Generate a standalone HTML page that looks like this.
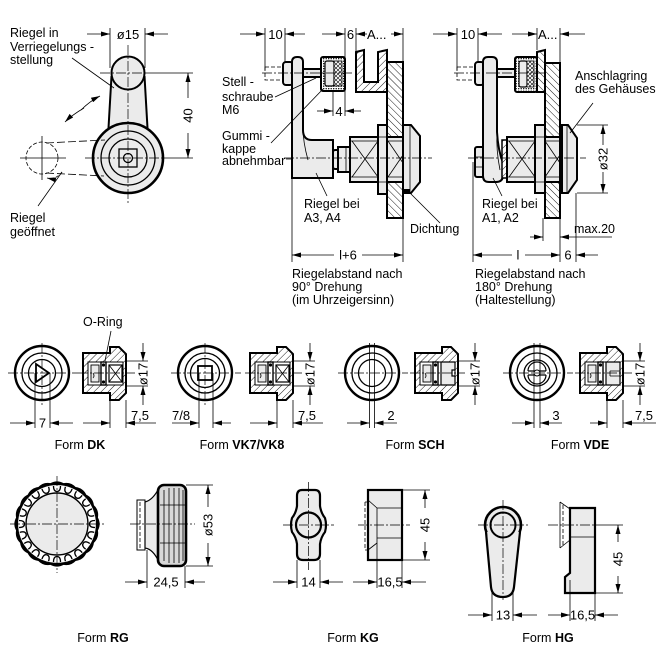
<!DOCTYPE html>
<html><head><meta charset="utf-8"><style>
html,body{margin:0;padding:0;background:#fff}
svg{display:block}
text{font-family:"Liberation Sans",Arial,sans-serif;font-size:12.5px;fill:#000}
.n{font-size:13px}
.t{stroke:#000;stroke-width:.8;fill:none}
.m{stroke:#000;stroke-width:1.3;fill:none}
.k{stroke:#000;stroke-width:2}
.c{stroke:#000;stroke-width:.7;fill:none;stroke-dasharray:10,2,2,2}
.d{stroke:#000;stroke-width:.8;fill:none;stroke-dasharray:4,2}
.g{fill:#ebebeb}
.w{fill:#fff}
.f{fill:none}
</style></head><body>
<svg width="668" height="668" viewBox="0 0 668 668" xmlns="http://www.w3.org/2000/svg" xmlns:xlink="http://www.w3.org/1999/xlink">
<defs>
<marker id="a" markerUnits="userSpaceOnUse" markerWidth="9" markerHeight="5" refX="9" refY="2.5" orient="auto"><path d="M0,0 L9,2.5 L0,5 Z" fill="#000"/></marker>
<pattern id="h1" width="5" height="5" patternUnits="userSpaceOnUse" patternTransform="rotate(45)"><rect width="5" height="5" fill="#fff"/><line x1="0" y1="0" x2="0" y2="5" stroke="#000" stroke-width="0.9"/></pattern>
<pattern id="h2" width="5" height="5" patternUnits="userSpaceOnUse" patternTransform="rotate(-45)"><rect width="5" height="5" fill="#fff"/><line x1="0" y1="0" x2="0" y2="5" stroke="#000" stroke-width="0.9"/></pattern>
<pattern id="xh" width="4" height="4" patternUnits="userSpaceOnUse"><rect width="4" height="4" fill="#fff"/><path d="M0,0 L4,4 M4,0 L0,4" stroke="#000" stroke-width="0.6"/></pattern>
<pattern id="st" width="2.5" height="2.5" patternUnits="userSpaceOnUse"><rect width="2.5" height="2.5" fill="#fff"/><circle cx="1.2" cy="1.2" r="0.7" fill="#000"/></pattern>
<g id="shell">
<path d="M0,0 H27 V-6 H36 L43,1 V40 L36,47 H27 V40 H0 Z" fill="url(#h1)" stroke="#000" stroke-width="2"/>
<rect x="5" y="9" width="35" height="23" fill="#fff" stroke="#000" stroke-width="1"/>
<rect x="8" y="12" width="8" height="17" class="g" stroke="#000" stroke-width="0.9"/>
<path d="M10,20 q2,3 0,5" class="t"/>
<rect x="18" y="9" width="5" height="23" fill="#fff" stroke="#000" stroke-width="1.4"/>
<circle cx="20.5" cy="12" r="1.6" fill="#000"/><circle cx="20.5" cy="29" r="1.6" fill="#000"/>
</g>
<g id="xbox">
<rect x="26" y="12" width="13" height="17" fill="#fff" stroke="#000" stroke-width="1.2"/>
<path d="M26,12 L39,29 M39,12 L26,29" class="t"/>
</g>
<g id="tooth">
<path d="M-3.5,-38 Q-3.5,-32.5 0,-32.5 Q3.5,-32.5 3.5,-38" stroke="#000" stroke-width="1.3" fill="none"/>
<path d="M-6.4,-39.8 Q0,-43.5 6.4,-39.8" stroke="#000" stroke-width="2" fill="none"/>
</g>
</defs>

<!-- ============ TOP LEFT VIEW ============ -->
<path class="g" d="M111.5,76 L108.5,132 L147.5,132 L144.5,76 Z"/>
<path class="k f" d="M111.5,76 L108.5,128 M144.5,76 L147.5,128"/>
<circle class="k g" cx="128" cy="73" r="16.5"/>
<circle class="g" stroke="#000" stroke-width="2.6" cx="128" cy="158" r="35"/>
<circle class="m" cx="128" cy="158" r="27"/>
<circle class="m" cx="128" cy="158" r="19"/>
<rect class="m" x="119" y="149" width="18" height="18" stroke-width="1.6"/>
<circle class="m" cx="128" cy="158" r="4.5"/>
<line class="c" x1="128" y1="45" x2="128" y2="205"/>
<line class="c" x1="85" y1="158" x2="165" y2="158"/>
<line class="c" x1="100" y1="73" x2="146" y2="73"/>
<path class="t" d="M110,28 V68 M145,28 V68"/>
<path class="t" d="M87,34 H110" marker-end="url(#a)"/>
<path class="t" d="M168,34 H145" marker-end="url(#a)"/>
<text class="n" x="128" y="39" text-anchor="middle">ø15</text>
<path class="t" d="M146,73 H193 M164,158 H193"/>
<path class="t" d="M188,98 V73" marker-end="url(#a)"/>
<path class="t" d="M188,133 V158" marker-end="url(#a)"/>
<text class="n" transform="translate(192.5,115.5) rotate(-90)" text-anchor="middle">40</text>
<circle class="d" cx="42" cy="158" r="16" stroke-width="1" stroke-dasharray="5,2"/>
<path class="t" d="M20,158 H66 M42,136 V180"/>
<path class="t" d="M46,143 L105,140 M46,173 L104,176" stroke-dasharray="8,3" stroke-width="1"/>
<path class="t" d="M81,110 Q90,101 100,96" marker-end="url(#a)" stroke-width="1"/>
<path class="t" d="M84,108 Q72,115 65,122" marker-end="url(#a)" stroke-width="1"/>
<path class="t" d="M62,172 Q56,180 47,178" stroke-dasharray="3,2" marker-end="url(#a)"/>
<path class="t" d="M72,58 L114,88 M38,206 L62,172"/>
<text x="10" y="37">Riegel in</text>
<text x="10" y="51">Verriegelungs -</text>
<text x="10" y="64">stellung</text>
<text x="10" y="222">Riegel</text>
<text x="10" y="236">geöffnet</text>

<!-- ============ MIDDLE VIEW ============ -->
<path class="t" d="M265,28 V70 M285,28 V62 M345,28 V116 M356,28 V52 M403,28 V262 M333,90 V116"/>
<path class="t" d="M240,34 H265" marker-end="url(#a)"/>
<path class="t" d="M305,34 H285" marker-end="url(#a)"/>
<text class="n" x="275.5" y="39" text-anchor="middle">10</text>
<path class="t" d="M322,34 H345" marker-end="url(#a)"/>
<path class="t" d="M367,34 H356" marker-end="url(#a)"/>
<text class="n" x="350.5" y="39" text-anchor="middle">6</text>
<text class="n" x="367" y="39">A...</text>
<path class="t" d="M391,34 H403" marker-end="url(#a)"/>
<path d="M356,52 L364,50 L364,82 L378,82 L378,52 L387,50 L387,92 L356,92 Z" fill="url(#h1)" stroke="#000" stroke-width="2"/>
<rect x="387" y="62" width="16" height="156" fill="url(#h2)" stroke="#000" stroke-width="2"/>
<rect class="d" x="265" y="67" width="19" height="13"/>
<rect class="k g" x="303" y="69" width="19" height="8" stroke-width="1.5"/>
<rect class="k g" x="283" y="62" width="10" height="23" rx="3"/>
<path class="k g" d="M292,178 L292,62 Q292,57 297,57 L298,57 Q303,57 303,62 L303,130 Q303,140 312,140 L333,140 L333,178 Z"/>
<path class="t" d="M303,128 Q303,142 308,160"/>
<rect x="321" y="57" width="24" height="34" rx="2" fill="url(#st)" stroke="#000" stroke-width="2"/>
<rect x="325" y="61" width="9" height="25" rx="2" class="g" stroke="#000" stroke-width="1.2"/>
<rect x="334" y="61" width="8" height="25" fill="url(#xh)" stroke="#000" stroke-width="0.8"/>
<line class="c" x1="262" y1="73" x2="352" y2="73"/>
<rect class="k g" x="333" y="150" width="7" height="19" rx="2" stroke-width="1.5"/>
<rect class="k g" x="338" y="147" width="12" height="25" stroke-width="1.5"/>
<line class="t" x1="346" y1="147" x2="346" y2="172"/>
<rect class="k g" x="350" y="137" width="53" height="45"/>
<path class="t" d="M350,141 H403 M350,177 H403 M352,141 L378,177 M352,177 L378,141 M388,141 L403,163 M388,177 L403,155"/>
<rect class="k g" x="378" y="125" width="9" height="69"/>
<path class="t" d="M378,137 H387 M378,182 H387"/>
<path class="k g" d="M403,125 L411,125 L420,136 L420,182 L411,193 L403,193 Z"/>
<line class="t" x1="410" y1="125" x2="410" y2="193"/>
<rect x="403" y="189" width="7" height="5" fill="#000"/>
<line class="c" x1="284" y1="158" x2="432" y2="158"/>
<path class="t" d="M317,111 H333" marker-end="url(#a)"/>
<path class="t" d="M361,111 H345" marker-end="url(#a)"/>
<text class="n" x="339" y="116" text-anchor="middle">4</text>
<path class="t" d="M292,178 V262"/>
<path class="t" d="M334,255 H292" marker-end="url(#a)"/>
<path class="t" d="M362,255 H403" marker-end="url(#a)"/>
<text class="n" x="348" y="259.5" text-anchor="middle">l+6</text>
<path class="t" d="M275,97 L316,78 M271,143 L323,89 M286,159 H292 M327,196 L316,173 M440,223 L410,193"/>
<text x="222" y="86">Stell -</text>
<text x="222" y="101">schraube</text>
<text x="222" y="114">M6</text>
<text x="222" y="140">Gummi -</text>
<text x="222" y="153">kappe</text>
<text x="222" y="165">abnehmbar</text>
<text x="304" y="208">Riegel bei</text>
<text x="304" y="222">A3, A4</text>
<text x="410" y="233">Dichtung</text>
<text x="292" y="278">Riegelabstand nach</text>
<text x="292" y="291">90° Drehung</text>
<text x="292" y="304">(im Uhrzeigersinn)</text>

<!-- ============ RIGHT VIEW ============ -->
<path class="t" d="M457,28 V70 M478,28 V62 M537,28 V50 M560,28 V262"/>
<path class="t" d="M433,34 H457" marker-end="url(#a)"/>
<path class="t" d="M502,34 H478" marker-end="url(#a)"/>
<text class="n" x="468" y="39" text-anchor="middle">10</text>
<path class="t" d="M512,34 H537" marker-end="url(#a)"/>
<path class="t" d="M585,34 H560" marker-end="url(#a)"/>
<text class="n" x="538" y="39">A...</text>
<path d="M537,52 L545,50 L545,92 L537,92 Z" fill="url(#h2)" stroke="#000" stroke-width="2"/>
<rect x="545" y="63" width="15" height="155" fill="url(#h2)" stroke="#000" stroke-width="2"/>
<rect class="d" x="457" y="67" width="19" height="13"/>
<rect class="k g" x="497" y="69" width="19" height="8" stroke-width="1.5"/>
<rect class="k g" x="475" y="62" width="9" height="23" rx="3"/>
<rect class="k g" x="475" y="147" width="9" height="30" rx="2" stroke-width="1.6"/>
<path class="t" d="M475,157 H484 M475,167 H484"/>
<path class="k g" d="M483,62 Q483,57 488,57 L492,57 Q497,57 497,62 L497,132 Q498,150 503,163 L503,175 Q503,182 496,182 L489,182 Q483,182 483,176 Z"/>
<path class="t" d="M497,132 Q496,150 500,170"/>
<rect x="515" y="57" width="22" height="35" rx="2" fill="url(#st)" stroke="#000" stroke-width="2"/>
<rect x="519" y="61" width="8" height="26" rx="2" class="g" stroke="#000" stroke-width="1.2"/>
<rect x="527" y="61" width="7" height="26" fill="url(#xh)" stroke="#000" stroke-width="0.8"/>
<line class="c" x1="454" y1="73" x2="545" y2="73"/>
<rect x="502" y="140" width="6" height="38" fill="url(#h1)" stroke="#000" stroke-width="1.5"/>
<rect class="k g" x="507" y="137" width="53" height="45"/>
<path class="t" d="M507,141 H560 M507,177 H560 M509,141 L535,177 M509,177 L535,141 M545,141 L560,163 M545,177 L560,155"/>
<rect class="k g" x="535" y="125" width="10" height="68"/>
<path class="t" d="M535,137 H545 M535,182 H545"/>
<path class="k g" d="M562,125 L568,125 L577,138 L577,180 L568,193 L562,193 Z"/>
<line class="t" x1="567" y1="125" x2="567" y2="193"/>
<line class="c" x1="468" y1="158" x2="586" y2="158"/>
<path class="t" d="M577,125 H608 M577,193 H608"/>
<path class="t" d="M603,145 V125" marker-end="url(#a)"/>
<path class="t" d="M603,172 V193" marker-end="url(#a)"/>
<text class="n" transform="translate(607.5,159) rotate(-90)" text-anchor="middle">ø32</text>
<path class="t" d="M543,218 V241 M576,193 V262"/>
<path class="t" d="M530,237 H543" marker-end="url(#a)"/>
<path class="t" d="M612,237 H560" marker-end="url(#a)"/>
<text x="574" y="233">max.20</text>
<path class="t" d="M473,162 V262"/>
<path class="t" d="M512,255 H473" marker-end="url(#a)"/>
<path class="t" d="M525,255 H560" marker-end="url(#a)"/>
<text class="n" x="518" y="259.5" text-anchor="middle">l</text>
<path class="t" d="M598,255 H576" marker-end="url(#a)"/>
<text class="n" x="568" y="259.5" text-anchor="middle">6</text>
<path class="t" d="M593,103 L570,133 M502,196 L493,178"/>
<text x="575" y="80">Anschlagring</text>
<text x="575" y="93">des Gehäuses</text>
<text x="482" y="208">Riegel bei</text>
<text x="482" y="222">A1, A2</text>
<text x="475" y="278">Riegelabstand nach</text>
<text x="475" y="291">180° Drehung</text>
<text x="475" y="304">(Haltestellung)</text>

<!-- ============ ROW 2 ============ -->
<circle cx="42" cy="373" r="27" fill="#fff" stroke="#000" stroke-width="2.4"/>
<circle class="m" cx="42" cy="373" r="20" stroke-width="1.8"/>
<circle class="m" cx="42" cy="373" r="13.5" stroke-width="1.8"/>
<path d="M36,364 L49,373 L36,382 Z" fill="none" stroke="#000" stroke-width="1.8"/>
<path class="c" d="M8,373 H78 M42,343 V405"/>
<path class="t" d="M35,373 V428 M50,373 V428"/>
<path class="t" d="M10,423 H35" marker-end="url(#a)"/>
<path class="t" d="M73,423 H50" marker-end="url(#a)"/>
<text class="n" x="42.5" y="427.5" text-anchor="middle">7</text>
<use xlink:href="#shell" href="#shell" transform="translate(83,353)"/>
<use xlink:href="#xbox" href="#xbox" transform="translate(83,353)"/>
<line class="c" x1="78" y1="373" x2="135" y2="373"/>
<path class="t" d="M126,361 H148 M126,386 H148 M110,400 V428 M126,400 V428"/>
<path class="t" d="M143,343 V361" marker-end="url(#a)"/>
<path class="t" d="M143,405 V386" marker-end="url(#a)"/>
<text class="n" transform="translate(147.5,374) rotate(-90)" text-anchor="middle">ø17</text>
<path class="t" d="M83,423 H110" marker-end="url(#a)"/>
<path class="t" d="M156,423 H126" marker-end="url(#a)"/>
<text class="n" x="140" y="420" text-anchor="middle">7,5</text>
<text x="83" y="326">O-Ring</text>
<path class="t" d="M111,331 L105,361"/>
<text x="80" y="449" text-anchor="middle">Form <tspan font-weight="bold">DK</tspan></text>

<circle cx="205" cy="373" r="27" fill="#fff" stroke="#000" stroke-width="2.4"/>
<circle class="m" cx="205" cy="373" r="20" stroke-width="1.8"/>
<circle class="m" cx="205" cy="373" r="14.5" stroke-width="1.8"/>
<rect x="198" y="366" width="14" height="14" fill="none" stroke="#000" stroke-width="1.8"/>
<path class="c" d="M171,373 H241 M205,343 V405"/>
<path class="t" d="M199,373 V428 M213,373 V428"/>
<path class="t" d="M172,423 H199" marker-end="url(#a)"/>
<path class="t" d="M231,423 H213" marker-end="url(#a)"/>
<text class="n" x="172" y="420">7/8</text>
<use xlink:href="#shell" href="#shell" transform="translate(250,353)"/>
<use xlink:href="#xbox" href="#xbox" transform="translate(250,353)"/>
<line class="c" x1="245" y1="373" x2="302" y2="373"/>
<path class="t" d="M293,361 H315 M293,386 H315 M277,400 V428 M293,400 V428"/>
<path class="t" d="M310,343 V361" marker-end="url(#a)"/>
<path class="t" d="M310,405 V386" marker-end="url(#a)"/>
<text class="n" transform="translate(314.5,374) rotate(-90)" text-anchor="middle">ø17</text>
<path class="t" d="M250,423 H277" marker-end="url(#a)"/>
<path class="t" d="M323,423 H293" marker-end="url(#a)"/>
<text class="n" x="307" y="420" text-anchor="middle">7,5</text>
<text x="242" y="449" text-anchor="middle">Form <tspan font-weight="bold">VK7/VK8</tspan></text>

<circle cx="372" cy="373" r="27" fill="#fff" stroke="#000" stroke-width="2.4"/>
<circle class="m" cx="372" cy="373" r="20" stroke-width="1.8"/>
<circle class="m" cx="372" cy="373" r="13.5" stroke-width="1.8"/>
<path class="c" d="M338,373 H408"/>
<path class="t" d="M369.5,343 V428 M374.5,343 V428"/>
<path class="t" d="M347,423 H369.5" marker-end="url(#a)"/>
<path class="t" d="M397,423 H374.5" marker-end="url(#a)"/>
<text class="n" x="391" y="420" text-anchor="middle">2</text>
<use xlink:href="#shell" href="#shell" transform="translate(415,353)"/>
<path d="M441,362 H455 V370 H452 V376 H455 V385 H441 Z" class="g" stroke="#000" stroke-width="1.2"/>
<line class="c" x1="410" y1="373" x2="465" y2="373"/>
<path class="t" d="M458,361 H480 M458,386 H480"/>
<path class="t" d="M475,343 V361" marker-end="url(#a)"/>
<path class="t" d="M475,405 V386" marker-end="url(#a)"/>
<text class="n" transform="translate(479.5,374) rotate(-90)" text-anchor="middle">ø17</text>
<text x="415" y="449" text-anchor="middle">Form <tspan font-weight="bold">SCH</tspan></text>

<circle cx="537" cy="373" r="27" fill="#fff" stroke="#000" stroke-width="2.4"/>
<circle class="m" cx="537" cy="373" r="20" stroke-width="1.8"/>
<circle class="m" cx="537" cy="373" r="13" stroke-width="1.6"/>
<path d="M528,371 A9,9 0 0 1 546,371 M528,375 A9,9 0 0 0 546,375 M528,371 H546 M528,375 H546" fill="none" stroke="#000" stroke-width="1.2"/>
<circle cx="537" cy="373" r="3" fill="#fff" stroke="#000" stroke-width="1"/>
<path class="c" d="M503,373 H573"/>
<path class="t" d="M534,343 V428 M540,343 V428"/>
<path class="t" d="M512,423 H534" marker-end="url(#a)"/>
<path class="t" d="M562,423 H540" marker-end="url(#a)"/>
<text class="n" x="556" y="420" text-anchor="middle">3</text>
<use xlink:href="#shell" href="#shell" transform="translate(580,353)"/>
<path d="M606,362 H620 V385 H606 Z" class="g" stroke="#000" stroke-width="1.2"/>
<path class="t" d="M610,371 H620 M610,376 H620 M610,371 V376"/>
<line class="c" x1="575" y1="373" x2="632" y2="373"/>
<path class="t" d="M623,361 H645 M623,386 H645 M607,400 V428 M623,400 V428"/>
<path class="t" d="M640,343 V361" marker-end="url(#a)"/>
<path class="t" d="M640,405 V386" marker-end="url(#a)"/>
<text class="n" transform="translate(644.5,374) rotate(-90)" text-anchor="middle">ø17</text>
<path class="t" d="M590,423 H607" marker-end="url(#a)"/>
<path class="t" d="M656,423 H623" marker-end="url(#a)"/>
<text class="n" x="644" y="420" text-anchor="middle">7,5</text>
<text x="580" y="449" text-anchor="middle">Form <tspan font-weight="bold">VDE</tspan></text>

<!-- ============ ROW 3 ============ -->
<circle cx="57" cy="524" r="40" fill="#fff" stroke="#000" stroke-width="2.2"/>
<circle cx="57" cy="524" r="31" class="g" stroke="#000" stroke-width="1.4"/>
<g transform="translate(57,524)">
<use xlink:href="#tooth" href="#tooth" transform="rotate(0)"/>
<use xlink:href="#tooth" href="#tooth" transform="rotate(18)"/>
<use xlink:href="#tooth" href="#tooth" transform="rotate(36)"/>
<use xlink:href="#tooth" href="#tooth" transform="rotate(54)"/>
<use xlink:href="#tooth" href="#tooth" transform="rotate(72)"/>
<use xlink:href="#tooth" href="#tooth" transform="rotate(90)"/>
<use xlink:href="#tooth" href="#tooth" transform="rotate(108)"/>
<use xlink:href="#tooth" href="#tooth" transform="rotate(126)"/>
<use xlink:href="#tooth" href="#tooth" transform="rotate(144)"/>
<use xlink:href="#tooth" href="#tooth" transform="rotate(162)"/>
<use xlink:href="#tooth" href="#tooth" transform="rotate(180)"/>
<use xlink:href="#tooth" href="#tooth" transform="rotate(198)"/>
<use xlink:href="#tooth" href="#tooth" transform="rotate(216)"/>
<use xlink:href="#tooth" href="#tooth" transform="rotate(234)"/>
<use xlink:href="#tooth" href="#tooth" transform="rotate(252)"/>
<use xlink:href="#tooth" href="#tooth" transform="rotate(270)"/>
<use xlink:href="#tooth" href="#tooth" transform="rotate(288)"/>
<use xlink:href="#tooth" href="#tooth" transform="rotate(306)"/>
<use xlink:href="#tooth" href="#tooth" transform="rotate(324)"/>
<use xlink:href="#tooth" href="#tooth" transform="rotate(342)"/>
</g>
<path class="c" d="M10,524 H105 M57,476 V573"/>
<rect x="137" y="500" width="8" height="50" fill="#fff" stroke="#000" stroke-width="1"/>
<line class="d" x1="140" y1="502" x2="140" y2="548"/>
<path d="M145,502 Q153,500 159,488 L159,562 Q153,549 145,548 Z" class="g" stroke="#000" stroke-width="1.2"/>
<rect x="158" y="485" width="28" height="81" rx="6" fill="#d8d8d8" stroke="#000" stroke-width="2.6"/>
<path class="t" d="M164,490 V561 M169,488 V563 M174,488 V563 M179,488 V563 M183,490 V561"/>
<path class="t" d="M160,505 H186 M160,543 H186" stroke-width="0.5"/>
<line class="c" x1="130" y1="524" x2="195" y2="524"/>
<path class="t" d="M186,485 H213 M186,566 H213"/>
<path class="t" d="M208,507 V485" marker-end="url(#a)"/>
<path class="t" d="M208,543 V566" marker-end="url(#a)"/>
<text class="n" transform="translate(212.5,525) rotate(-90)" text-anchor="middle">ø53</text>
<path class="t" d="M147,550 V588 M185,566 V588"/>
<path class="t" d="M125,582 H147" marker-end="url(#a)"/>
<path class="t" d="M205,582 H185" marker-end="url(#a)"/>
<text class="n" x="166" y="586.5" text-anchor="middle">24,5</text>
<text x="103" y="642" text-anchor="middle">Form <tspan font-weight="bold">RG</tspan></text>

<path d="M302,490 L315,490 Q320,490 320,496 L320,506 Q321,513 325,518 Q327,525 325,532 Q321,537 320,544 L320,554 Q320,560 314,560 L303,560 Q297,560 297,554 L297,544 Q296,537 292,532 Q290,525 292,518 Q296,513 297,506 L297,496 Q297,490 302,490 Z" class="g" stroke="#000" stroke-width="2.2"/>
<circle cx="308.5" cy="525" r="12.5" class="g" stroke="#000" stroke-width="2.2"/>
<path class="c" d="M308.5,482 V570 M283,525 H334"/>
<path class="t" d="M297,560 V588 M320,560 V588"/>
<path class="t" d="M273,582 H297" marker-end="url(#a)"/>
<path class="t" d="M343,582 H320" marker-end="url(#a)"/>
<text class="n" x="308.5" y="586.5" text-anchor="middle">14</text>
<rect x="368" y="490" width="34" height="70" class="g" stroke="#000" stroke-width="2.2"/>
<path class="t" d="M377,508 H402 M377,538 H402 M377,508 V543 M368,500 L377,508 M368,550 L377,543"/>
<path class="d" d="M365,502 V550"/>
<path class="t" d="M365,502 H368 M365,550 H368"/>
<line class="c" x1="358" y1="525" x2="410" y2="525"/>
<path class="t" d="M402,490 H430 M402,560 H430"/>
<path class="t" d="M425,508 V490" marker-end="url(#a)"/>
<path class="t" d="M425,542 V560" marker-end="url(#a)"/>
<text class="n" transform="translate(429.5,525) rotate(-90)" text-anchor="middle">45</text>
<path class="t" d="M377,543 V588 M402,560 V588"/>
<path class="t" d="M353,582 H377" marker-end="url(#a)"/>
<path class="t" d="M426,582 H402" marker-end="url(#a)"/>
<text class="n" x="390" y="586.5" text-anchor="middle">16,5</text>
<text x="353" y="642" text-anchor="middle">Form <tspan font-weight="bold">KG</tspan></text>

<circle cx="503" cy="525" r="18" class="g" stroke="#000" stroke-width="2.6"/>
<path class="g" d="M487,532 L491,587 Q492,597 503,597 Q513,597 514,587 L520,532 Z"/>
<path class="f" stroke="#000" stroke-width="2.2" d="M486,532 L491,587 Q492,597 503,597 Q513,597 514,587 L520,532"/>
<circle cx="503" cy="525" r="12.5" class="g" stroke="#000" stroke-width="2"/>
<path class="c" d="M503,500 V600 M478,525 H528"/>
<path class="t" d="M492,590 V621 M513,590 V621"/>
<path class="t" d="M468,615 H492" marker-end="url(#a)"/>
<path class="t" d="M537,615 H513" marker-end="url(#a)"/>
<text class="n" x="503" y="619.5" text-anchor="middle">13</text>
<path d="M570,508 L595,508 L595,593 L565,593 L565,577 L570,573 Z" class="g" stroke="#000" stroke-width="2.2"/>
<line class="t" x1="570" y1="537" x2="595" y2="537"/>
<path class="t" d="M560,502 V548 M560,502 L570,509 M560,548 L570,540" stroke-width="1.2"/>
<path class="d" d="M563,505 V545"/>
<line class="c" x1="548" y1="525" x2="595" y2="525"/>
<path class="t" d="M595,525 H623 M595,593 H623"/>
<path class="t" d="M618,542 V525" marker-end="url(#a)"/>
<path class="t" d="M618,576 V593" marker-end="url(#a)"/>
<text class="n" transform="translate(622.5,559) rotate(-90)" text-anchor="middle">45</text>
<path class="t" d="M570,580 V621 M595,593 V621"/>
<path class="t" d="M548,615 H570" marker-end="url(#a)"/>
<path class="t" d="M618,615 H595" marker-end="url(#a)"/>
<text class="n" x="582.5" y="619.5" text-anchor="middle">16,5</text>
<text x="548" y="642" text-anchor="middle">Form <tspan font-weight="bold">HG</tspan></text>
</svg>
</body></html>
